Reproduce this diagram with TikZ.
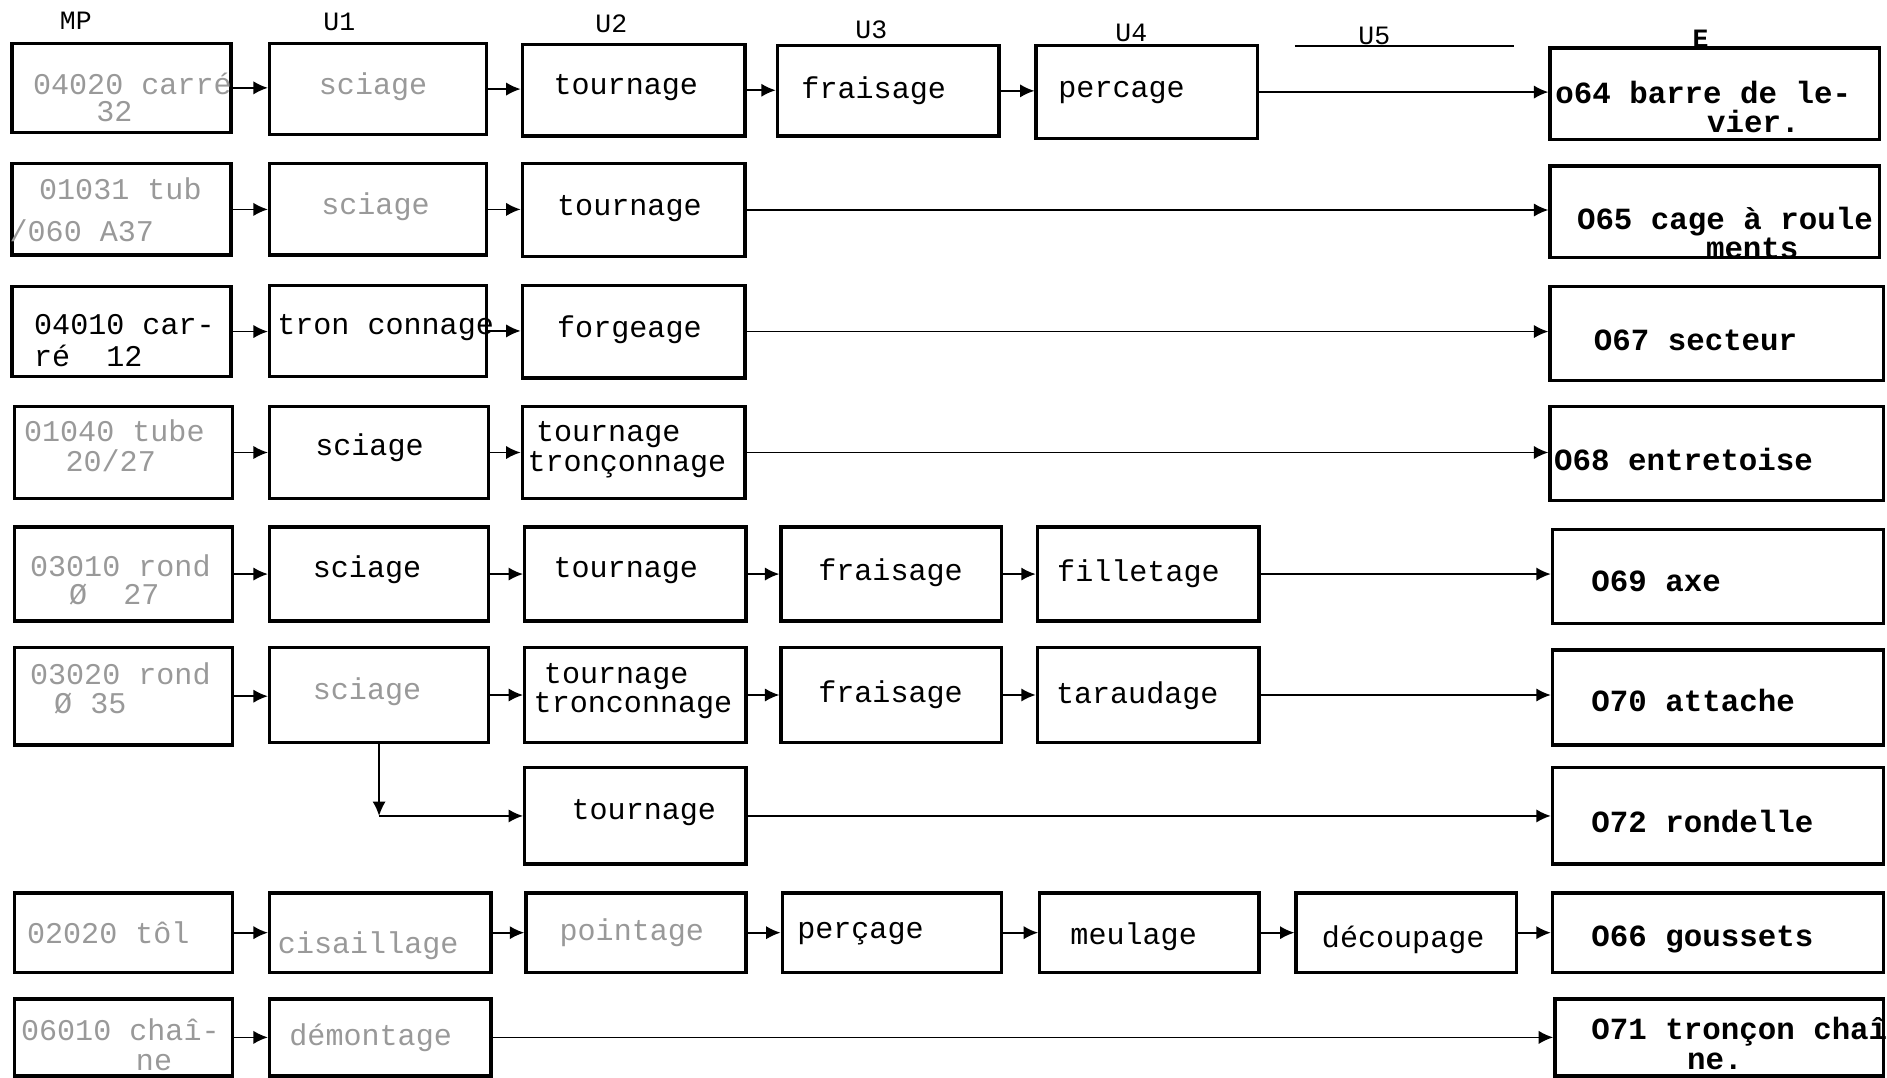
\documentclass[tikz,border=0pt]{standalone}
\usepackage{fontspec}
\setmonofont{Liberation Mono}
\usetikzlibrary{arrows.meta}
\tikzset{
  bx/.style={draw, line width=1.4pt, inner sep=0pt},
  tt/.style={font=\ttfamily\fontsize{12.5}{13}\selectfont, inner sep=0pt},
  ttb/.style={font=\ttfamily\bfseries\fontsize{12.8}{13}\selectfont, inner sep=0pt},
  hd/.style={font=\ttfamily\fontsize{11}{12}\selectfont, inner sep=0pt},
  faint/.style={text=black!40},
  con/.style={line width=0.7pt, -{Latex[length=6pt,width=5.5pt]}},
}
\newcommand\bx[5]{\node[bx, minimum width={(#4-#2)*0.5pt}, minimum height={(#5-#3)*0.5pt}] (#1) at ({(#2+#4)/2},{(#3+#5)/2}) {};}
\begin{document}
\begin{tikzpicture}[x=0.5pt,y=-0.5pt]
\useasboundingbox (0,0) rectangle (1568,895);
\clip (0,0) rectangle (1568,895);
% headers
\node[hd] (hMP) at (63,17) {MP};
\node[hd] (hU1) at (282,18) {U1};
\node[hd] (hU2) at (508,20) {U2};
\node[hd] (hU3) at (724,25) {U3};
\node[hd] (hU4) at (940,27) {U4};
\node[hd] (hU5) at (1142,30) {U5};
\node[hd,font=\ttfamily\bfseries\fontsize{11}{12}\selectfont] (hE) at (1413,32) {E};
\draw[line width=0.7pt] (1076,38) -- (1258,38);
% row 1
\bx{m1}{10}{36}{192}{110}
\bx{a1}{224}{36}{404}{112}
\bx{b1}{434}{37}{619}{113}
\bx{c1}{646}{38}{830}{113}
\bx{d1}{861}{38}{1045}{115}
\bx{e1}{1288}{40}{1562}{116}
\node[tt,faint] (tm1a) at (110,70) {04020 carré};
\node[tt,faint] (tm1b) at (95,93) {32};
\node[tt,faint] (ta1) at (310,72) {sciage};
\node[tt] (tb1) at (520,73) {tournage};
\node[tt] (tc1) at (726,75) {fraisage};
\node[tt] (td1) at (932,77) {percage};
\node[ttb,anchor=west] (te1a) at (1292,77) {o64 barre de le-};
\node[ttb] (te1b) at (1457,101) {vier.};
% row 2
\bx{m2}{10}{136}{192}{212}
\bx{a2}{224}{136}{404}{212}
\bx{b2}{434}{136}{619}{213}
\bx{e2}{1288}{138}{1562}{214}
\node[tt,faint] (tm2a) at (100,157) {01031 tub};
\node[tt,faint] (tm2b) at (68,192) {/060 A37};
\node[tt,faint] (ta2) at (312,172) {sciage};
\node[tt] (tb2) at (523,173) {tournage};
\node[ttb,anchor=west] (te2a) at (1310,184) {O65 cage à roule};
\node[ttb] (te2b) at (1456,206) {ments};
% row 3
\bx{m3}{10}{238}{192}{313}
\bx{a3}{224}{237}{404}{313}
\bx{b3}{434}{237}{619}{314}
\bx{e3}{1288}{238}{1565}{316}
\node[tt,anchor=west] (tm3a) at (28,270) {04010 car-};
\node[tt,anchor=west] (tm3b) at (28,296) {ré~~12};
\node[tt,anchor=west] (ta3) at (230,272) {tron connage};
\node[tt] (tb3) at (523,274) {forgeage};
\node[ttb,anchor=west] (te3) at (1324,283) {O67 secteur};
% row 4
\bx{m4}{12}{338}{193}{414}
\bx{a4}{224}{338}{406}{414}
\bx{b4}{434}{338}{619}{414}
\bx{e4}{1288}{338}{1565}{416}
\node[tt,faint] (tm4a) at (95,358) {01040 tube};
\node[tt,faint] (tm4b) at (92,383) {20/27};
\node[tt] (ta4) at (307,372) {sciage};
\node[tt,anchor=west] (tb4a) at (445,361) {tournage};
\node[tt,anchor=west] (tb4b) at (438,386) {tronçonnage};
\node[ttb,anchor=west] (te4) at (1291,382) {O68 entretoise};
% row 5
\bx{m5}{12}{438}{193}{516}
\bx{a5}{224}{438}{406}{516}
\bx{b5}{436}{438}{620}{516}
\bx{c5}{649}{438}{832}{516}
\bx{d5}{862}{438}{1046}{516}
\bx{e5}{1290}{440}{1565}{518}
\node[tt,faint] (tm5a) at (100,470) {03010 rond};
\node[tt,faint] (tm5b) at (95,494) {Ø~~27};
\node[tt] (ta5) at (305,473) {sciage};
\node[tt] (tb5) at (520,474) {tournage};
\node[tt] (tc5) at (740,476) {fraisage};
\node[tt] (td5) at (946,477) {filletage};
\node[ttb,anchor=west] (te5) at (1322,483) {O69 axe};
% row 6
\bx{m6}{12}{538}{193}{619}
\bx{a6}{224}{538}{406}{617}
\bx{b6}{436}{538}{620}{617}
\bx{c6}{649}{538}{832}{617}
\bx{d6}{862}{538}{1046}{617}
\bx{e6}{1290}{540}{1565}{619}
\node[tt,faint] (tm6a) at (100,560) {03020 rond};
\node[tt,faint] (tm6b) at (75,585) {Ø 35};
\node[tt,faint] (ta6) at (305,575) {sciage};
\node[tt] (tb6a) at (512,562) {tournage};
\node[tt] (tb6b) at (526,586) {tronconnage};
\node[tt] (tc6) at (740,577) {fraisage};
\node[tt] (td6) at (945,578) {taraudage};
\node[ttb,anchor=west] (te6) at (1322,582) {O70 attache};
% row 7
\bx{b7}{436}{638}{620}{718}
\bx{e7}{1290}{638}{1565}{718}
\node[tt] (tb7) at (535,675) {tournage};
\node[ttb,anchor=west] (te7) at (1322,683) {O72 rondelle};
% row 8
\bx{m8}{12}{742}{193}{808}
\bx{a8}{224}{742}{408}{808}
\bx{b8}{437}{742}{620}{808}
\bx{c8}{650}{742}{832}{808}
\bx{d8}{864}{742}{1046}{808}
\bx{f8}{1077}{742}{1260}{808}
\bx{e8}{1290}{742}{1565}{808}
\node[tt,faint] (tm8) at (90,775) {02020 tôl};
\node[tt,faint] (ta8) at (306,786) {cisaillage};
\node[tt,faint] (tb8) at (525,775) {pointage};
\node[tt] (tc8) at (715,776) {perçage};
\node[tt] (td8) at (942,778) {meulage};
\node[tt] (tf8) at (1166,781) {découpage};
\node[ttb,anchor=west] (te8) at (1322,781) {O66 goussets};
% row 9
\bx{m9}{12}{830}{193}{894}
\bx{a9}{224}{830}{408}{894}
\bx{e9}{1292}{830}{1565}{894}
\node[tt,faint] (tm9a) at (100,856) {06010 chaî-};
\node[tt,faint] (tm9b) at (128,883) {ne};
\node[tt,faint] (ta9) at (308,862) {démontage};
\node[ttb,anchor=west] (te9a) at (1322,857) {O71 tronçon chaî};
\node[ttb] (te9b) at (1425,882) {ne.};
% connectors
\draw[con] (m1.east) -- (m1.east -| a1.west);
\draw[con] (a1.east) -- (a1.east -| b1.west);
\draw[con] (b1.east) -- (b1.east -| c1.west);
\draw[con] (c1.east) -- (c1.east -| d1.west);
\draw[con] (d1.east) -- (d1.east -| e1.west);
\draw[con] (m2.east) -- (m2.east -| a2.west);
\draw[con] (a2.east) -- (a2.east -| b2.west);
\draw[con] (b2.east) -- (b2.east -| e2.west);
\draw[con] (m3.east) -- (m3.east -| a3.west);
\draw[con] (a3.east) -- (a3.east -| b3.west);
\draw[con] (b3.east) -- (b3.east -| e3.west);
\draw[con] (m4.east) -- (m4.east -| a4.west);
\draw[con] (a4.east) -- (a4.east -| b4.west);
\draw[con] (b4.east) -- (b4.east -| e4.west);
\draw[con] (m5.east) -- (m5.east -| a5.west);
\draw[con] (a5.east) -- (a5.east -| b5.west);
\draw[con] (b5.east) -- (b5.east -| c5.west);
\draw[con] (c5.east) -- (c5.east -| d5.west);
\draw[con] (d5.east) -- (d5.east -| e5.west);
\draw[con] (m6.east) -- (m6.east -| a6.west);
\draw[con] (a6.east) -- (a6.east -| b6.west);
\draw[con] (b6.east) -- (b6.east -| c6.west);
\draw[con] (c6.east) -- (c6.east -| d6.west);
\draw[con] (d6.east) -- (d6.east -| e6.west);
\coordinate (k7) at (315,678);
\draw[con] (a6.south -| k7) -- (k7);
\draw[con] (k7) -- (k7 -| b7.west);
\draw[con] (b7.east) -- (b7.east -| e7.west);
\draw[con] (m8.east) -- (m8.east -| a8.west);
\draw[con] (a8.east) -- (a8.east -| b8.west);
\draw[con] (b8.east) -- (b8.east -| c8.west);
\draw[con] (c8.east) -- (c8.east -| d8.west);
\draw[con] (d8.east) -- (d8.east -| f8.west);
\draw[con] (f8.east) -- (f8.east -| e8.west);
\draw[con] (m9.east) -- (m9.east -| a9.west);
\draw[con] (a9.east) -- (a9.east -| e9.west);
\end{tikzpicture}
\end{document}
